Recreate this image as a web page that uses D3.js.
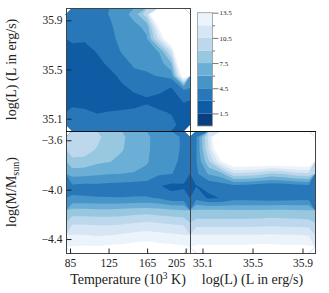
<!DOCTYPE html>
<html>
<head>
<meta charset="utf-8">
<script src="https://cdn.jsdelivr.net/npm/d3@7"></script>
<style>
  body { margin: 0; background: #fff; }
  svg { display: block; font-family: "Liberation Serif", "DejaVu Serif", serif; }
</style>
</head>
<body>
<script>
// contour levels shared by the three panels and the colorbar
const levels = [0, 1.5, 3, 4.5, 6, 7.5, 9, 10.5, 12, 13.5];
const cbarMajor = [1.5, 4.5, 7.5, 10.5, 13.5];
const cbarMinor = [3, 6, 9, 12];

// axis ranges and ticks
const tempDomain = [80.85, 209.5];
const lumDomain = [35.0, 36.0];
const massDomain = [-4.513, -3.525];
const tempTicks = [85, 125, 165, 205];
const lumTicks = [35.1, 35.5, 35.9];
const massTicks = [-3.6, -4.0, -4.4];

// grids: first row = top of the panel, first column = left
const gridTempLum = [
  [3.8, 3.9, 4.1, 4.55, 5.3, 6.6, 10, 22, 26, 30],
  [3.7, 3.8, 4.0, 4.3, 5.0, 5.6, 6.4, 14, 22, 28],
  [3.3, 3.2, 3.6, 4.2, 4.8, 5.3, 5.8, 11, 17, 25],
  [2.5, 2.5, 3.1, 3.8, 4.6, 5.0, 5.4, 6.1, 11, 24],
  [2.3, 2.2, 2.6, 3.3, 4.1, 4.7, 4.9, 5.2, 7.5, 20],
  [2.2, 2.1, 2.3, 2.6, 3.3, 4.2, 4.3, 4.6, 5.0, 15.5],
  [2.3, 2.2, 2.3, 2.4, 2.8, 3.2, 3.3, 3.3, 2.95, 4.8],
  [2.6, 2.5, 2.4, 2.5, 2.6, 2.7, 2.9, 2.7, 2.6, 3.1],
  [3.3, 3.2, 2.95, 3.05, 3.1, 3.15, 3.2, 3.1, 2.95, 2.6],
  [3.6, 3.5, 3.5, 3.4, 3.4, 3.5, 3.5, 3.4, 3.2, 2.7]
];
const gridTempMass = [
  [10.2, 10.1, 9.4, 8.3, 7.7, 7.0, 6.3, 5.3, 4.9, 4.3],
  [9.8, 9.7, 8.9, 8.0, 7.6, 6.9, 6.3, 5.2, 4.9, 4.3],
  [8.6, 8.5, 7.8, 7.55, 7.2, 6.6, 6.2, 5.0, 4.8, 4.2],
  [6.6, 6.5, 6.3, 6.1, 6.0, 5.9, 5.5, 4.7, 4.55, 4.0],
  [4.2, 4.1, 4.1, 4.0, 3.9, 3.8, 3.8, 3.1, 2.6, 2.8],
  [4.6, 4.6, 4.55, 4.55, 4.55, 4.6, 4.6, 4.4, 3.5, 3.6],
  [7.9, 7.9, 7.8, 7.8, 7.9, 8.1, 8.2, 8.0, 7.8, 7.5],
  [10.2, 10.2, 10.1, 10.1, 10.2, 10.4, 10.6, 10.4, 10.2, 10.0],
  [12.0, 12.0, 11.8, 11.9, 12.1, 12.4, 12.6, 12.4, 12.2, 12.0],
  [13.6, 13.7, 13.6, 13.8, 13.9, 14.1, 14.3, 14.0, 13.9, 13.7]
];
const gridLumMass = [
  [4.3, 11, 20, 25, 26, 27, 27, 27, 27, 27],
  [4.4, 10.6, 17, 22, 22, 22, 22, 22, 22, 22],
  [4.4, 8.8, 13.3, 16, 16, 16, 16, 16, 16, 16],
  [4.2, 6.2, 7.0, 10.2, 10.0, 9.6, 8.8, 9.2, 10.0, 10.2],
  [2.95, 3.3, 3.6, 4.0, 3.9, 3.6, 3.3, 3.4, 3.8, 4.0],
  [3.9, 2.8, 3.05, 3.8, 3.8, 3.7, 3.6, 3.7, 3.8, 3.9],
  [7.7, 7.7, 7.7, 7.6, 7.6, 7.6, 7.7, 7.7, 7.6, 7.5],
  [9.6, 9.6, 9.6, 9.6, 9.6, 9.7, 9.8, 9.7, 9.6, 9.5],
  [12.0, 12.0, 12.0, 12.0, 12.0, 12.0, 12.1, 12.0, 12.0, 11.9],
  [13.8, 13.8, 13.8, 13.8, 13.8, 13.9, 13.9, 13.8, 13.8, 13.7]
];

// Blues_r, one colour per band, white above the last level
const bandColors = ["#083f81", "#105ca4", "#2878b9", "#4795c8", "#6baed6",
                    "#98c7e0", "#bdd7ec", "#d6e6f4", "#ecf4fb", "#ffffff"];

const pLeft = 66, pMid = 190, pRight = 315;
const pTop = 8, pMidY = 131, pBottom = 253;

const svg = d3.select("body").append("svg")
    .attr("width", 329)
    .attr("height", 293);

const xTemp = d3.scaleLinear().domain(tempDomain).range([pLeft, pMid]);
const xLum = d3.scaleLinear().domain(lumDomain).range([pMid, pRight]);
const yLum = d3.scaleLinear().domain(lumDomain).range([pMidY, pTop]);
const yMass = d3.scaleLinear().domain(massDomain).range([pBottom, pMidY]);

function drawPanel(grid, xs, ys) {
  const ny = grid.length, nx = grid[0].length;
  const xd = xs.domain(), yd = ys.domain();
  // grid coordinates -> data values
  const gx = d3.scaleLinear().domain([0, nx]).range(xd);
  const gy = d3.scaleLinear().domain([0, ny]).range([yd[1], yd[0]]);
  const path = d3.geoPath(d3.geoTransform({
    point(x, y) { this.stream.point(xs(gx(x)), ys(gy(y))); }
  }));
  const contours = d3.contours().size([nx, ny]).thresholds(levels)(grid.flat());
  svg.append("g").selectAll("path")
    .data(contours)
    .join("path")
    .attr("d", path)
    .attr("fill", (d, i) => bandColors[i]);
}

drawPanel(gridTempLum, xTemp, yLum);
drawPanel(gridTempMass, xTemp, yMass);
drawPanel(gridLumMass, xLum, yMass);

// frames
const frame = svg.append("g").attr("fill", "none").attr("stroke", "#444").attr("stroke-width", 1);
frame.append("rect").attr("x", pLeft + 0.5).attr("y", pTop + 0.5).attr("width", pMid - pLeft).attr("height", pMidY - pTop);
frame.append("rect").attr("x", pLeft + 0.5).attr("y", pMidY + 0.5).attr("width", pMid - pLeft).attr("height", pBottom - pMidY);
frame.append("rect").attr("x", pMid + 0.5).attr("y", pMidY + 0.5).attr("width", pRight - pMid).attr("height", pBottom - pMidY);
svg.append("line").attr("x1", pLeft).attr("x2", pRight + 1).attr("y1", pMidY + 0.5).attr("y2", pMidY + 0.5)
  .attr("stroke", "#111");

function styleAxis(g, size) {
  g.select(".domain").remove();
  g.selectAll("line").attr("stroke", "#222");
  g.selectAll("text").attr("fill", "#222")
    .style("font-family", "'Liberation Serif', serif").style("font-size", size + "px");
}

svg.append("g").attr("transform", `translate(${pLeft + 0.5},0)`)
  .call(d3.axisLeft(yLum).tickValues(lumTicks).tickSize(-5).tickPadding(4).tickFormat(d3.format(".1f")))
  .call(g => styleAxis(g, 11.5));
svg.append("g").attr("transform", `translate(${pLeft + 0.5},0)`)
  .call(d3.axisLeft(yMass).tickValues(massTicks).tickSize(-5).tickPadding(4).tickFormat(d3.format(".1f")))
  .call(g => styleAxis(g, 11.5));
svg.append("g").attr("transform", `translate(0,${pBottom + 0.5})`)
  .call(d3.axisBottom(xTemp).tickValues(tempTicks).tickSize(-5).tickPadding(5).tickFormat(d3.format("d")))
  .call(g => styleAxis(g, 11.5))
  // last temperature label sits left of its tick, clear of the next panel
  .call(g => g.selectAll(".tick text").filter(d => d === tempTicks[tempTicks.length - 1])
    .attr("text-anchor", "end").attr("x", -1));
svg.append("g").attr("transform", `translate(0,${pBottom + 0.5})`)
  .call(d3.axisBottom(xLum).tickValues(lumTicks).tickSize(-5).tickPadding(5).tickFormat(d3.format(".1f")))
  .call(g => styleAxis(g, 11.5));

// colorbar
const cbX = 197.5, cbW = 15;
const cbY = d3.scaleLinear().domain([levels[0], levels[levels.length - 1]]).range([126, 12.7]);
const bands = d3.range(levels.length - 1);
svg.append("g").selectAll("rect")
  .data(bands)
  .join("rect")
  .attr("x", cbX)
  .attr("width", cbW)
  .attr("y", i => cbY(levels[i + 1]))
  .attr("height", i => cbY(levels[i]) - cbY(levels[i + 1]))
  .attr("fill", i => bandColors[i]);
svg.append("rect").attr("x", cbX).attr("y", cbY(13.5)).attr("width", cbW)
  .attr("height", cbY(0) - cbY(13.5)).attr("fill", "none").attr("stroke", "#999").attr("stroke-width", 0.8);
svg.append("g").attr("transform", `translate(${cbX + cbW},0)`)
  .call(d3.axisRight(cbY).tickValues(cbarMinor).tickSize(2.5).tickFormat(""))
  .call(g => { g.select(".domain").remove(); g.selectAll("line").attr("stroke", "#777"); });
svg.append("g").attr("transform", `translate(${cbX + cbW},0)`)
  .call(d3.axisRight(cbY).tickValues(cbarMajor).tickSize(6).tickPadding(1).tickFormat(d3.format(".1f")))
  .call(g => styleAxis(g, 7))
  .call(g => g.selectAll("line").attr("stroke", "#777"));

// axis titles
svg.append("text")
  .attr("transform", `translate(15.5,${(pTop + pMidY) / 2}) rotate(-90)`)
  .attr("text-anchor", "middle").attr("font-size", 14).attr("fill", "#222")
  .text("log(L) (L in erg/s)");

const massLabel = svg.append("text")
  .attr("transform", `translate(15.5,${(pMidY + pBottom) / 2}) rotate(-90)`)
  .attr("text-anchor", "middle").attr("font-size", 14).attr("fill", "#222");
massLabel.append("tspan").text("log(M/M");
massLabel.append("tspan").attr("dy", 3).attr("font-size", 10).text("sun");
massLabel.append("tspan").attr("dy", -3).text(")");

const tempLabel = svg.append("text")
  .attr("x", (pLeft + pMid) / 2).attr("y", 284)
  .attr("text-anchor", "middle").attr("font-size", 14).attr("fill", "#222");
tempLabel.append("tspan").text("Temperature (10");
tempLabel.append("tspan").attr("dy", -5).attr("font-size", 9.5).text("3");
tempLabel.append("tspan").attr("dy", 5).text(" K)");

svg.append("text")
  .attr("x", (pMid + pRight) / 2).attr("y", 284)
  .attr("text-anchor", "middle").attr("font-size", 14).attr("fill", "#222")
  .text("log(L) (L in erg/s)");
</script>
</body>
</html>
